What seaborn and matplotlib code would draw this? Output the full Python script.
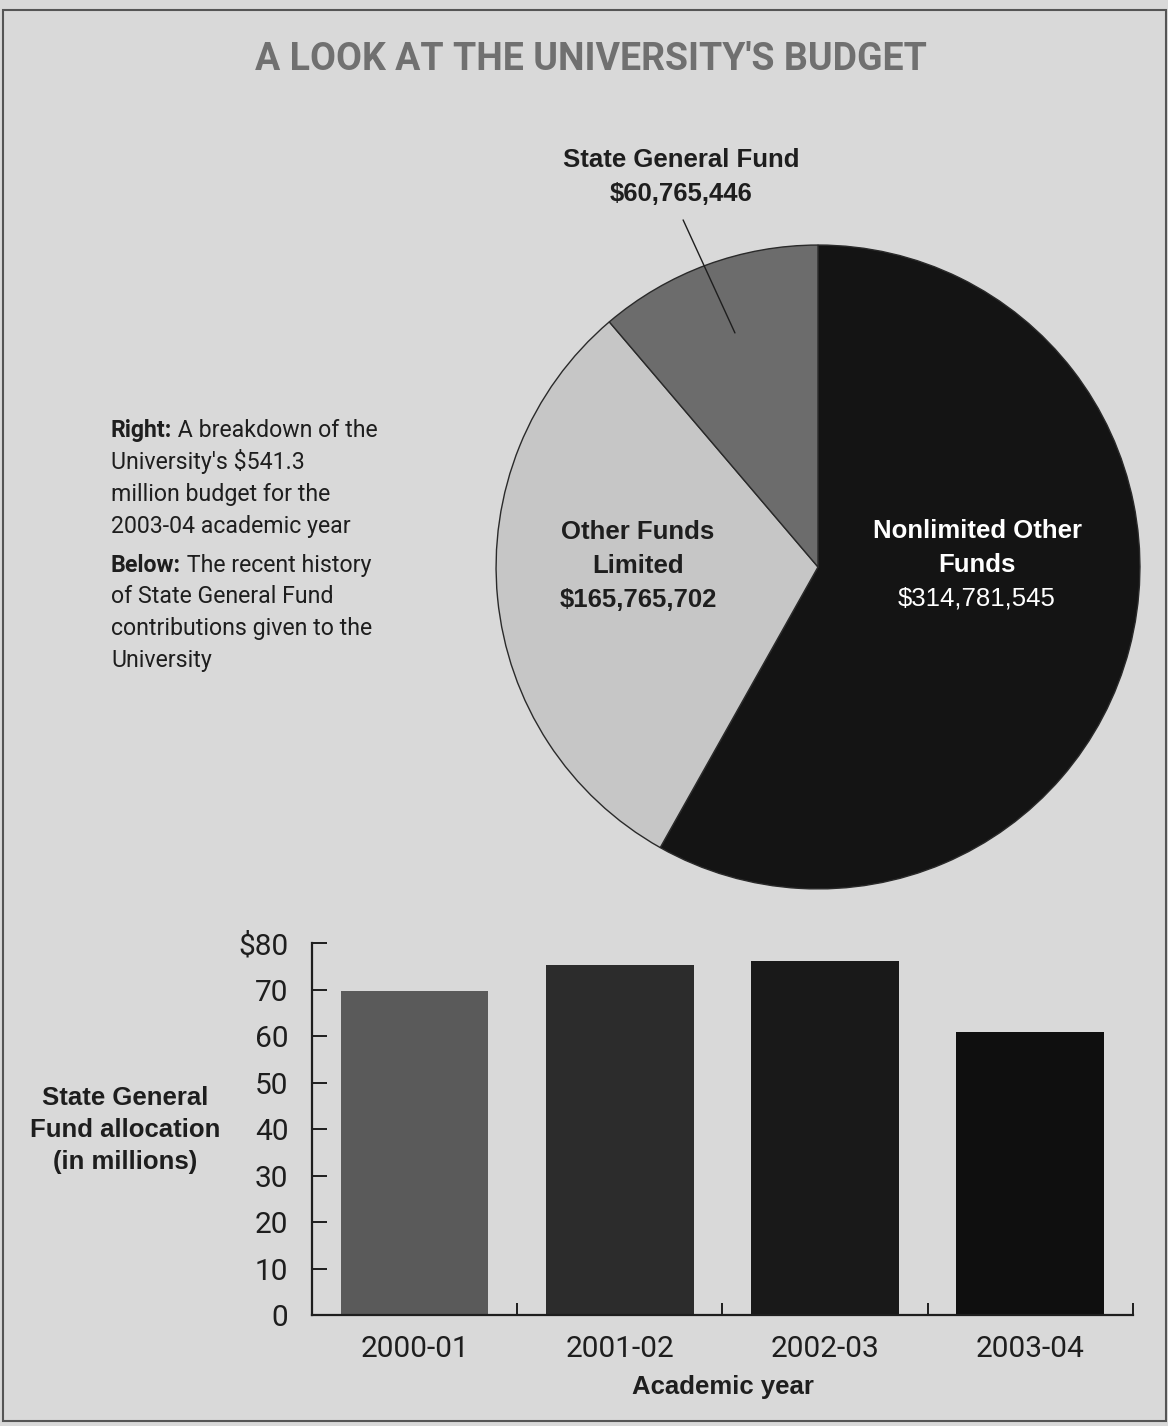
import matplotlib.pyplot as plt
import matplotlib.patches as mpatches
import seaborn as sns
import warnings
warnings.filterwarnings("ignore")

# pie: 2003-04 budget breakdown (dollars)
pie_labels = ['Nonlimited Other Funds', 'Other Funds Limited', 'State General Fund']
pie_values = [314781545, 165765702, 60765446]
pie_colors = ['#141414', '#c6c6c6', '#6c6c6c']

# bars: State General Fund allocation (millions)
years = ['2000-01', '2001-02', '2002-03', '2003-04']
allocation = [69.7, 75.3, 76.1, 60.8]
bar_colors = ['#5a5a5a', '#2c2c2c', '#191919', '#0f0f0f']
y_ticks = [0, 10, 20, 30, 40, 50, 60, 70, 80]
y_tick_labels = ['0', '10', '20', '30', '40', '50', '60', '70', '$80']

bg = '#d9d9d9'
ink = '#1e1e1e'
narrow = ['Roboto', 'DejaVu Sans']
wide = ['Liberation Sans', 'DejaVu Sans']

sns.set_theme(style='white')
plt.rcParams['font.family'] = narrow
plt.rcParams['figure.facecolor'] = bg
plt.rcParams['axes.facecolor'] = bg

fig = plt.figure(figsize=(11.68, 14.26), dpi=100)

# frame around the graphic
fig.add_artist(mpatches.Rectangle((0.0026, 0.0035), 0.9957, 0.9895, transform=fig.transFigure,
                                  fill=False, edgecolor='#555555', linewidth=1.5))

fig.text(0.506, 0.958, "A LOOK AT THE UNIVERSITY'S BUDGET", ha='center', va='center',
         fontsize=27, fontweight='bold', color='#707070', family=narrow)

# ---- pie ----
ax_pie = fig.add_axes([0.4178, 0.3710, 0.5651, 0.4628])
ax_pie.pie(pie_values, colors=pie_colors, startangle=90, counterclock=False,
           wedgeprops=dict(edgecolor='#2a2a2a', linewidth=1))
ax_pie.set_xlim(-1.025, 1.025)
ax_pie.set_ylim(-1.025, 1.025)
ax_pie.axis('off')

lbl = dict(ha='center', va='center', fontsize=18.5, family=wide)
ax_pie.text(0.494, 0.112, 'Nonlimited Other', color='white', fontweight='bold', **lbl)
ax_pie.text(0.494, 0.006, 'Funds', color='white', fontweight='bold', **lbl)
ax_pie.text(0.494, -0.099, f'${pie_values[0]:,}', color='white', **lbl)

ax_pie.text(-0.559, 0.109, 'Other Funds', color=ink, fontweight='bold', **lbl)
ax_pie.text(-0.559, 0.003, 'Limited', color=ink, fontweight='bold', **lbl)
ax_pie.text(-0.559, -0.102, f'${pie_values[1]:,}', color=ink, fontweight='bold', **lbl)

ax_pie.text(-0.425, 1.264, 'State General Fund', color=ink, fontweight='bold', **lbl)
ax_pie.text(-0.425, 1.158, f'${pie_values[2]:,}', color=ink, fontweight='bold', **lbl)
ax_pie.plot([-0.419, -0.258], [1.078, 0.727], color=ink, lw=1, clip_on=False)

# ---- side note ----
def note_line(y_px, text, bold_lead=None):
    y = 1 - y_px / 1426
    if bold_lead:
        t = fig.text(111 / 1168, y, bold_lead, fontsize=16.7, fontweight='bold', color=ink,
                     va='baseline', ha='left', family=narrow)
        fig.add_artist(plt.Annotation(' ' + text, xy=(1, 0), xycoords=t, va='bottom', ha='left',
                                      fontsize=16.7, color=ink, family=narrow))
    else:
        fig.text(111 / 1168, y, text, fontsize=16.7, color=ink, va='baseline', ha='left', family=narrow)


note_line(437, 'A breakdown of the', 'Right:')
note_line(469, "University's $541.3")
note_line(501, 'million budget for the')
note_line(533, '2003-04 academic year')
note_line(572, 'The recent history', 'Below:')
note_line(603, 'of State General Fund')
note_line(635, 'contributions given to the')
note_line(667, 'University')

# ---- bars ----
ax = fig.add_axes([0.2671, 0.0778, 0.7029, 0.2609])
sns.barplot(x=years, y=allocation, hue=years, palette=bar_colors, saturation=1,
            width=0.72, legend=False, linewidth=0, ax=ax)
ax.set_xlim(-0.5, 3.5)
ax.set_ylim(0, 80)
sns.despine(ax=ax)
for s in ['left', 'bottom']:
    ax.spines[s].set_color(ink)
    ax.spines[s].set_linewidth(1.6)

ax.set_yticks(y_ticks)
ax.set_yticklabels(y_tick_labels)
ax.tick_params(axis='y', direction='in', length=11, width=1.4, color=ink, left=True,
               labelsize=21.5, labelcolor=ink, pad=17)
ax.set_xticks([0.5, 1.5, 2.5, 3.5], minor=True)
ax.tick_params(axis='x', which='minor', direction='in', length=9, width=1.4, color=ink, bottom=True)
ax.tick_params(axis='x', which='major', length=0, labelsize=21.5, labelcolor=ink, pad=14)

ax.set_xlabel('Academic year', fontsize=18.5, fontweight='bold', color=ink, family=wide, labelpad=9)
ax.set_ylabel('State General\nFund allocation\n(in millions)', rotation=0, ha='center', va='center',
              fontsize=18.5, fontweight='bold', color=ink, family=wide, linespacing=1.43)
ax.yaxis.set_label_coords(-0.228, 0.497)

fig.savefig('out.png', dpi=100, facecolor=bg)
